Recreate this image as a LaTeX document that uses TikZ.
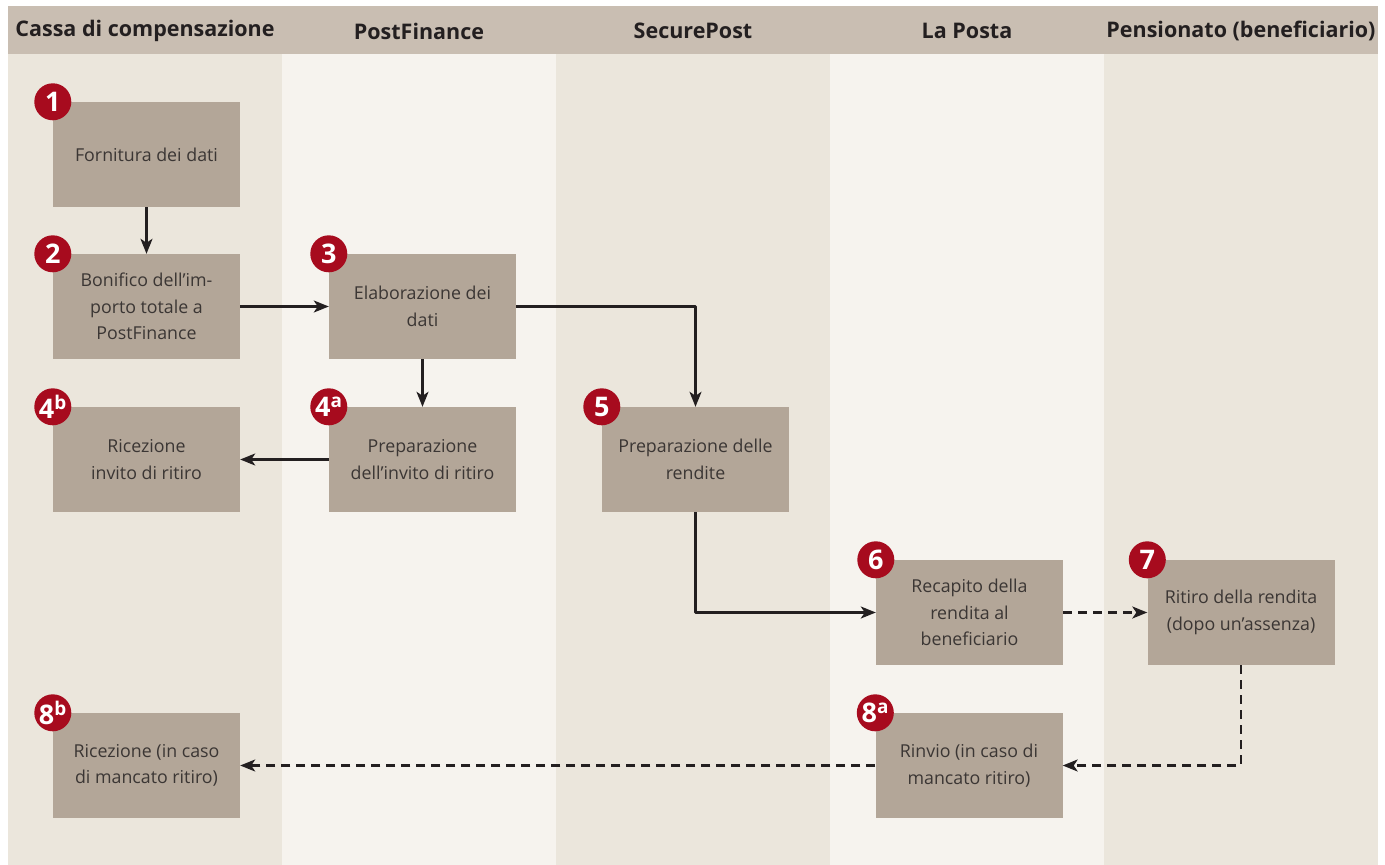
\documentclass[tikz,border=0pt]{standalone}
\usepackage{fontspec}
\setmainfont{Open Sans}
\usetikzlibrary{arrows.meta}
\definecolor{headbg}{HTML}{C9BEB2}
\definecolor{lanedark}{HTML}{EBE6DC}
\definecolor{lanelight}{HTML}{F6F3EE}
\definecolor{boxfill}{HTML}{B3A698}
\definecolor{badgered}{HTML}{A70B1E}
\definecolor{ink}{HTML}{231F20}
\definecolor{boxtext}{HTML}{3B3634}
\tikzset{
  stepbox/.style={fill=boxfill, minimum width=187pt, minimum height=105pt, align=center,
    text=boxtext, font=\fontsize{17.8}{26.5}\selectfont, inner sep=0pt},
  badge/.style={circle, fill=badgered, minimum size=37pt, inner sep=0pt, text=white,
    font=\fontsize{27}{27}\selectfont\bfseries},
  lanehead/.style={font=\fontsize{21.5}{21.5}\selectfont\bfseries, text=ink},
  flow/.style={draw=ink, line width=2.2pt, -{Stealth[length=15pt,width=12pt,inset=4pt]}},
  retour/.style={flow, dash pattern=on 9pt off 6pt}
}
\begin{document}
\begin{tikzpicture}[x=1pt, y=-1pt, line join=round, >=stealth]
\useasboundingbox (0,0) rectangle (1385,865);
\foreach \i/\c in {0/lanedark,1/lanelight,2/lanedark,3/lanelight,4/lanedark}
  \fill[\c] ({8+274*\i},54) rectangle ({8+274*(\i+1)},865);
\fill[headbg] (8,6) rectangle (1378,54);
\foreach \i/\t in {0/Cassa di compensazione,1/PostFinance,2/SecurePost,3/La Posta,4/Pensionato (beneficiario)}
  \node[lanehead] (h\i) at ({145+274*\i},31) {\t};

\node[stepbox] (s1) at (146.5,154.5) {Fornitura dei dati};
\node[stepbox] (s2) at (146.5,306.5) {Bonifico dell’im-\\porto totale a\\PostFinance};
\node[stepbox] (s3) at (422.5,306.5) {Elaborazione dei\\dati};
\node[stepbox] (s4b) at (146.5,459.5) {Ricezione\\invito di ritiro};
\node[stepbox] (s4a) at (422.5,459.5) {Preparazione\\dell’invito di ritiro};
\node[stepbox] (s5) at (695.5,459.5) {Preparazione delle\\rendite};
\node[stepbox] (s6) at (969.5,612.5) {Recapito della\\rendita al\\beneficiario};
\node[stepbox] (s7) at (1241,612.5) {Ritiro della rendita\\(dopo un’assenza)};
\node[stepbox] (s8b) at (146.5,765.5) {Ricezione (in caso\\di mancato ritiro)};
\node[stepbox] (s8a) at (969,765.5) {Rinvio (in caso di\\mancato ritiro)};

\foreach \s/\n in {s1/1,s2/2,s3/3,s4b/4\textsuperscript{b},s4a/4\textsuperscript{a},s5/5,s6/6,s7/7,s8b/8\textsuperscript{b},s8a/8\textsuperscript{a}}
  \node[badge] (n\s) at (\s.north west) {\n};

\draw[flow] (s1) -- (s2);
\draw[flow] (s2) -- (s3);
\draw[flow] (s3) -- (s4a);
\draw[flow] (s4a) -- (s4b);
\draw[flow] (s3.east) -| (s5.north);
\draw[flow] (s5.south) |- (s6.west);
\draw[retour] (s6) -- (s7);
\draw[retour] (s7.south) |- (s8a.east);
\draw[retour] (s8a) -- (s8b);
\end{tikzpicture}
\end{document}
